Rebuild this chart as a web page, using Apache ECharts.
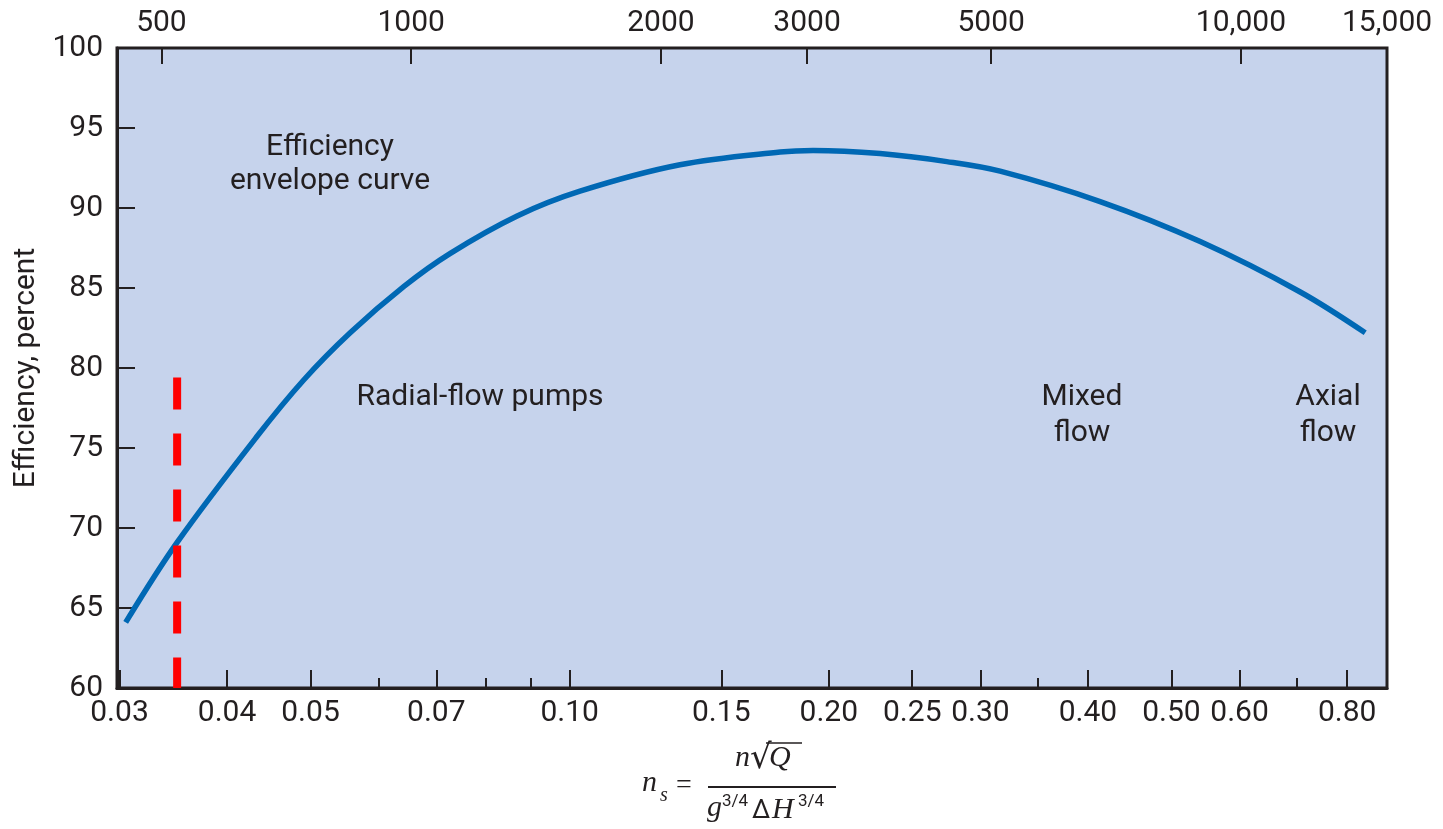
<!DOCTYPE html>
<html>
<head>
<meta charset="utf-8">
<title>Pump efficiency envelope</title>
<script src="https://cdn.jsdelivr.net/npm/echarts@6/dist/echarts.min.js"></script>
<style>
    html, body { margin: 0; padding: 0; background: #fff; }
    #chart { width: 1443px; height: 829px; }
</style>
</head>
<body>
<div id="chart"></div>
<script>
// envelope curve: specific speed (dimensionless) vs efficiency %
var nsValues = [0.0305, 0.035, 0.0433, 0.0491, 0.0556, 0.0642, 0.0726, 0.0869, 0.1028, 0.1343,
    0.1756, 0.1918, 0.2294, 0.2742, 0.3162, 0.4132, 0.540, 0.7057, 0.8396];
var efficiency = [64.1, 69.1, 75.7, 79.25, 82.2, 85.1, 87.15, 89.5, 91.05, 92.7,
    93.5, 93.6, 93.4, 92.9, 92.3, 90.4, 87.9, 84.75, 82.2];

// red dashed marker line
var markerNs = [0.035, 0.035];
var markerEff = [79.4, 60];

// tick values
var bottomTicks = [0.03, 0.04, 0.05, 0.07, 0.10, 0.15, 0.20, 0.25, 0.30, 0.40, 0.50, 0.60, 0.80];
var bottomMinorTicks = [0.06, 0.08, 0.09, 0.35, 0.70];
var topTicks = [500, 1000, 2000, 3000, 5000, 10000];
var topLabels = [500, 1000, 2000, 3000, 5000, 10000, 15000];

var INK = '#231f20';
var FONT = 'Roboto';

var myChart = echarts.init(document.getElementById('chart'));

function zip(a, b) {
    return a.map(function (v, i) { return [v, b[i]]; });
}

function txt(x, y, text, size, extra) {
    var style = {
        text: text,
        x: x,
        y: y,
        fill: INK,
        fontSize: size,
        fontFamily: FONT,
        align: 'left',
        verticalAlign: 'middle'
    };
    for (var k in extra) style[k] = extra[k];
    return { type: 'text', z: 100, style: style };
}

var serifIt = { fontFamily: 'Liberation Serif', fontStyle: 'italic' };

var option = {
    animation: false,
    textStyle: { fontFamily: FONT, color: INK },
    grid: {
        left: 117,
        right: 56,
        top: 48,
        bottom: 141,
        containLabel: false,
        outerBoundsMode: 'none',
        show: true,
        backgroundColor: '#c6d3ec',
        borderColor: INK,
        borderWidth: 3
    },
    xAxis: [{
        type: 'log',
        logBase: 10,
        min: 0.0298,
        max: 0.89,
        position: 'bottom',
        axisLine: { show: true, lineStyle: { color: INK, width: 3 } },
        axisTick: {
            show: true,
            inside: true,
            length: 18,
            lineStyle: { color: INK, width: 2 },
            customValues: bottomTicks
        },
        axisLabel: {
            customValues: bottomTicks,
            fontSize: 30,
            color: INK,
            margin: 10,
            formatter: function (v) { return (+v).toFixed(2); }
        },
        splitLine: { show: false },
        minorTick: { show: false }
    }, {
        type: 'log',
        logBase: 10,
        min: 442,
        max: 15000,
        position: 'top',
        axisLine: { show: false },
        axisTick: {
            show: true,
            inside: true,
            length: 16,
            lineStyle: { color: INK, width: 2 },
            customValues: topTicks
        },
        axisLabel: {
            customValues: topLabels,
            fontSize: 30,
            color: INK,
            margin: 10,
            formatter: function (v) {
                var n = Math.round(v);
                return n >= 10000 ? String(n).replace(/(\d)(?=(\d{3})+$)/g, '$1,') : String(n);
            }
        },
        splitLine: { show: false }
    }, {
        // minor ticks on the bottom axis
        type: 'log',
        logBase: 10,
        min: 0.0298,
        max: 0.89,
        position: 'bottom',
        axisLine: { show: false },
        axisTick: {
            show: true,
            inside: true,
            length: 10,
            lineStyle: { color: INK, width: 2 },
            customValues: bottomMinorTicks
        },
        axisLabel: { show: false },
        splitLine: { show: false }
    }],
    yAxis: {
        type: 'value',
        min: 60,
        max: 100,
        interval: 5,
        name: 'Efficiency, percent',
        nameLocation: 'middle',
        nameRotate: 90,
        nameGap: 74,
        nameTextStyle: { fontSize: 30, color: INK, fontFamily: FONT },
        axisLine: { show: true, lineStyle: { color: INK, width: 3 } },
        axisTick: { show: true, inside: true, length: 18, lineStyle: { color: INK, width: 2 } },
        axisLabel: { fontSize: 30, color: INK, margin: 14 },
        splitLine: { show: false }
    },
    series: [{
        type: 'line',
        xAxisIndex: 0,
        data: zip(nsValues, efficiency),
        smooth: 0.35,
        showSymbol: false,
        lineStyle: { color: '#0068b4', width: 5.5 },
        z: 3
    }, {
        type: 'line',
        xAxisIndex: 0,
        data: zip(markerNs, markerEff),
        showSymbol: false,
        lineStyle: { color: '#ff0000', width: 8, type: [32, 24], cap: 'butt' },
        z: 4
    }],
    graphic: [
        txt(330, 164, 'Efficiency\nenvelope curve', 30, { align: 'center', lineHeight: 34 }),
        txt(480, 397, 'Radial-flow pumps', 30, { align: 'center' }),
        txt(1082, 415, 'Mixed\nflow', 30, { align: 'center', lineHeight: 36 }),
        txt(1328, 415, 'Axial\nflow', 30, { align: 'center', lineHeight: 36 }),
        // n_s = n sqrt(Q) / (g^3/4 dH^3/4)
        txt(642, 783, 'n', 30, serifIt),
        txt(660, 796, 's', 20, serifIt),
        txt(676, 786, '=', 28, { fontFamily: 'Liberation Serif' }),
        { type: 'line', z: 100, shape: { x1: 708, y1: 787, x2: 836, y2: 787 }, style: { stroke: INK, lineWidth: 2 } },
        txt(735, 758, 'n', 30, serifIt),
        txt(750, 759, '\u221A', 34, { fontFamily: 'DejaVu Serif' }),
        { type: 'line', z: 100, shape: { x1: 766, y1: 743, x2: 802, y2: 743 }, style: { stroke: INK, lineWidth: 1.5 } },
        txt(769, 758, 'Q', 30, serifIt),
        txt(707, 808, 'g', 30, serifIt),
        txt(722, 802, '3/4', 17, {}),
        txt(752, 811, '\u0394', 26, {}),
        txt(772, 810, 'H', 30, serifIt),
        txt(798, 802, '3/4', 17, {})
    ]
};

myChart.setOption(option);
window.addEventListener('resize', function () {
    myChart.resize();
});
</script>
</body>
</html>
